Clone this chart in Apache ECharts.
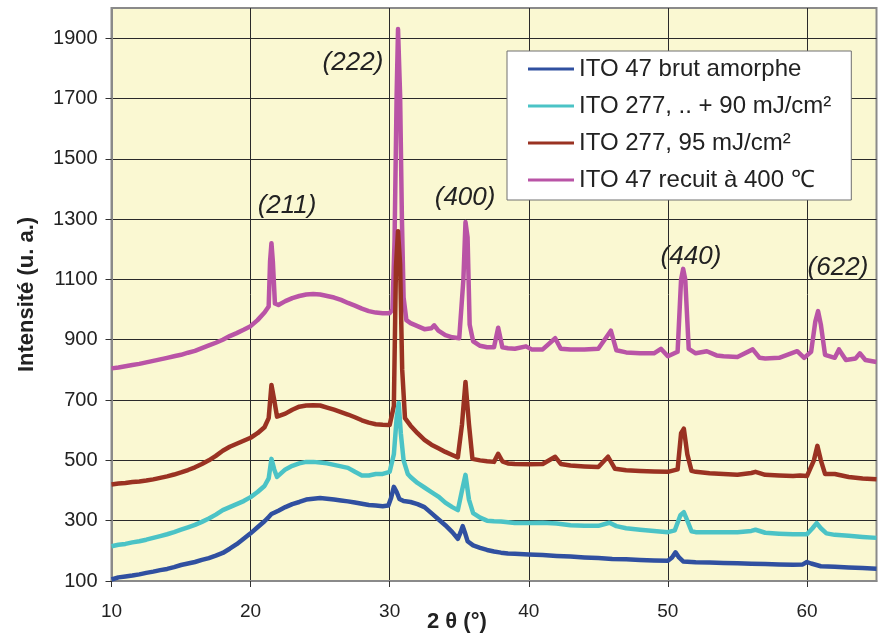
<!DOCTYPE html>
<html><head><meta charset="utf-8">
<script src="https://cdn.jsdelivr.net/npm/echarts@6/dist/echarts.min.js"></script>
<style>html,body{margin:0;padding:0;background:#fff}#c{width:882px;height:639px}</style>
</head><body><div id="c"></div>
<script>
const seriesNames = ['ITO 47 brut amorphe', 'ITO 277, .. + 90 mJ/cm²', 'ITO 277, 95 mJ/cm²', 'ITO 47 recuit à 400 ℃'];
const xTicks = [10, 20, 30, 40, 50, 60];
const yTicks = [100, 300, 500, 700, 900, 1100, 1300, 1500, 1700, 1900];
const peakLabels = ['(211)', '(222)', '(400)', '(440)', '(622)'];
const xTitle = '2 θ (°)';
const yTitle = 'Intensité (u. a.)';

// [2θ, intensité]
const brut = [[10,105],[10.5,112],[11,115],[11.5,118],[12,122],[12.5,127],[13,131],[13.5,136],[14,140],[14.5,146],[15,153],[15.5,158],[16,163],[16.5,170],[17,176],[17.5,184],[18,193],[18.5,207],[19,222],[19.5,240],[20,258],[20.5,278],[21,298],[21.3,312],[21.5,322],[22,333],[22.5,345],[23,355],[23.5,362],[24,370],[24.5,373],[25,375],[25.5,373],[26,370],[26.5,367],[27,364],[27.5,360],[28,356],[28.5,352],[29,350],[29.5,348],[29.9,350],[30.1,375],[30.3,412],[30.5,395],[30.7,372],[31,365],[31.5,362],[32,355],[32.5,345],[33,325],[33.5,305],[34,285],[34.5,262],[34.9,240],[35.1,262],[35.25,282],[35.4,262],[35.6,232],[36,218],[36.5,210],[37,203],[37.5,198],[38,194],[38.5,191],[39,190],[40,188],[41,186],[42,183],[43,181],[44,178],[45,176],[46,173],[47,172],[48,170],[49,168],[50,167],[50.3,178],[50.55,195],[50.8,178],[51.1,165],[52,162],[53,161],[54,160],[55,159],[56,157],[57,156],[58,155],[59,154],[59.7,155],[60,163],[60.3,158],[61,149],[62,147],[63,145],[64,143],[65,141]];

const laser90 = [[10,215],[10.5,220],[11,223],[11.5,228],[12,232],[12.5,237],[13,243],[13.5,249],[14,255],[14.5,262],[15,270],[15.5,278],[16,286],[16.5,296],[17,307],[17.5,320],[18,335],[18.5,345],[19,355],[19.5,365],[20,378],[20.5,395],[21,415],[21.3,440],[21.5,505],[21.7,470],[21.9,445],[22.5,470],[23,482],[23.5,490],[24,495],[24.5,495],[25,493],[25.5,490],[26,485],[26.5,480],[27,475],[27.5,462],[28,450],[28.5,450],[29,455],[29.5,455],[30,462],[30.3,520],[30.5,640],[30.65,690],[30.8,590],[31,500],[31.3,455],[31.5,445],[32,425],[32.5,410],[33,395],[33.5,380],[34,360],[34.5,345],[34.9,335],[35.2,400],[35.45,452],[35.7,370],[36,325],[36.5,310],[37,300],[37.5,298],[38,297],[38.5,295],[39,292],[40,292],[41,293],[42,291],[43,285],[44,283],[45,283],[45.8,293],[46.3,282],[47,275],[48,270],[49,266],[50,262],[50.5,268],[50.9,318],[51.15,328],[51.4,300],[51.7,265],[52,262],[53,262],[54,262],[55,262],[56,266],[56.3,270],[57,260],[58,257],[59,255],[60,255],[60.4,275],[60.7,292],[61,275],[61.4,258],[62,253],[63,250],[64,246],[65,243]];

const laser95 = [[10,420],[10.5,423],[11,425],[11.5,428],[12,430],[12.5,433],[13,437],[13.5,442],[14,447],[14.5,453],[15,460],[15.5,468],[16,477],[16.5,488],[17,500],[17.5,515],[18,532],[18.5,545],[19,555],[19.5,565],[20,575],[20.5,590],[21,610],[21.3,640],[21.5,750],[21.7,700],[21.9,645],[22.5,655],[23,668],[23.5,678],[24,682],[24.5,683],[25,682],[25.5,675],[26,668],[26.5,660],[27,652],[27.5,643],[28,633],[28.5,625],[29,620],[29.5,618],[30,617],[30.3,680],[30.45,1140],[30.6,1260],[30.75,1150],[30.9,800],[31.1,640],[31.5,615],[32,590],[32.5,568],[33,552],[33.5,540],[34,528],[34.5,518],[34.9,510],[35.2,620],[35.45,760],[35.7,620],[35.95,505],[36.5,500],[37,497],[37.5,495],[37.8,522],[38.1,497],[38.5,490],[39,488],[40,487],[41,488],[41.9,512],[42.3,488],[43,483],[44,480],[45,478],[45.7,512],[46.2,472],[47,467],[48,465],[49,463],[50,462],[50.7,470],[50.95,590],[51.15,605],[51.4,520],[51.7,465],[52,462],[53,457],[54,455],[55,452],[56,458],[56.3,462],[57,452],[58,450],[59,448],[59.5,450],[60,448],[60.5,500],[60.75,548],[61,500],[61.3,455],[62,455],[63,445],[64,440],[65,437]];

const recuit = [[10,805],[10.5,808],[11,812],[11.5,816],[12,820],[12.5,825],[13,830],[13.5,835],[14,840],[14.5,845],[15,850],[15.5,857],[16,863],[16.5,872],[17,881],[17.5,890],[18,900],[18.5,912],[19,922],[19.5,933],[20,945],[20.5,965],[21,990],[21.3,1010],[21.4,1160],[21.5,1220],[21.6,1160],[21.75,1020],[22,1015],[22.5,1028],[23,1038],[23.5,1045],[24,1050],[24.5,1052],[25,1050],[25.5,1045],[26,1040],[26.5,1032],[27,1022],[27.5,1013],[28,1003],[28.5,995],[29,990],[29.5,988],[30,988],[30.2,1000],[30.35,1230],[30.5,1710],[30.6,1930],[30.75,1710],[30.88,1300],[31,1040],[31.2,965],[31.5,955],[32,945],[32.5,935],[33,938],[33.2,948],[33.5,930],[34,915],[34.5,908],[35,905],[35.3,1100],[35.45,1290],[35.6,1240],[35.75,950],[36,895],[36.5,880],[37,875],[37.5,875],[37.8,940],[38.1,875],[38.5,872],[39,870],[39.8,878],[40.2,868],[41,868],[41.9,905],[42.3,870],[43,868],[44,868],[45,870],[45.9,930],[46.3,865],[47,858],[48,855],[49,855],[49.5,870],[50,845],[50.7,860],[50.95,1100],[51.1,1135],[51.25,1100],[51.5,870],[52,855],[52.8,862],[53.5,848],[54,845],[55,843],[56.1,868],[56.6,840],[57,838],[58,840],[59.3,862],[59.8,840],[60.3,860],[60.6,960],[60.8,995],[61,950],[61.3,850],[62,840],[62.3,868],[62.8,833],[63.5,838],[63.8,855],[64.2,833],[65,826]];

const colors = ['#3050A0', '#4BC3C6', '#9A3222', '#B954A6'];
const FONT = 'Liberation Sans, Arial, sans-serif';

const chart = echarts.init(document.getElementById('c'), null, {renderer: 'canvas'});
const datasets = [brut, laser90, laser95, recuit];
const zs = [5, 4, 3, 2];
const series = datasets.map((d, i) => ({
  name: seriesNames[i],
  type: 'line',
  data: d,
  symbol: 'none',
  z: zs[i],
  lineStyle: {color: colors[i], width: 4.5, join: 'round'},
  itemStyle: {color: colors[i]},
  emphasis: {disabled: true},
  animation: false
}));
const labelCoords = [[22.62,1344],[27.36,1818],[35.42,1370],[51.66,1175],[62.23,1138]];
series[3].markPoint = {
  symbol: 'circle', symbolSize: 1,
  itemStyle: {color: 'rgba(0,0,0,0)'},
  label: {show: true, position: 'inside', formatter: p => p.name,
    fontFamily: FONT, fontStyle: 'italic', fontSize: 26, color: '#222'},
  emphasis: {disabled: true},
  data: peakLabels.map((t, k) => ({name: t, coord: labelCoords[k]}))
};

chart.setOption({
  animation: false,
  backgroundColor: '#ffffff',
  textStyle: {fontFamily: FONT},
  grid: {left: 111.5, right: 5.5, top: 8, bottom: 58, show: true, containLabel: false, outerBoundsMode: 'none',
    backgroundColor: '#FAF8D2', borderColor: '#8a8a8a', borderWidth: 2},
  legend: {
    type: 'plain', show: true,
    orient: 'vertical', left: 507, top: 51, right: 'auto', bottom: 'auto',
    data: seriesNames,
    icon: 'rect',
    itemWidth: 46, itemHeight: 3, itemGap: 13,
    padding: [6, 20, 8, 21],
    backgroundColor: '#ffffff', borderColor: '#707070', borderWidth: 1,
    textStyle: {fontFamily: FONT, fontSize: 24, color: '#222', lineHeight: 24},
    selectedMode: false
  },
  graphic: [{
    type: 'text', left: 427, top: 611, silent: true,
    style: {text: xTitle, fontFamily: FONT, fontWeight: 'bold', fontSize: 22, fill: '#222'}
  }],
  xAxis: {
    type: 'value', min: 10, max: 65, interval: 10,
    axisLine: {show: true, onZero: false, lineStyle: {color: '#8a8a8a', width: 2}},
    axisTick: {show: true, inside: false, length: 6, customValues: xTicks, lineStyle: {color: '#333'}},
    axisLabel: {customValues: xTicks, margin: 21, formatter: v => String(v), fontFamily: FONT, fontSize: 19, color: '#222'},
    splitLine: {show: true, lineStyle: {color: '#2a2a2a', width: 1}}
  },
  yAxis: {
    type: 'value', min: 100, max: 2000, interval: 200,
    name: yTitle, nameLocation: 'middle', nameGap: 74,
    nameTextStyle: {fontFamily: FONT, fontWeight: 'bold', fontSize: 22, color: '#222'},
    axisLine: {show: true, onZero: false, lineStyle: {color: '#8a8a8a', width: 2}},
    axisTick: {show: true, inside: false, length: 6, customValues: yTicks, lineStyle: {color: '#333'}},
    axisLabel: {customValues: yTicks, margin: 14, formatter: v => String(v), fontFamily: FONT, fontSize: 20, color: '#222'},
    splitLine: {show: true, lineStyle: {color: '#2a2a2a', width: 1}}
  },
  series: series
});
</script>
</body></html>
